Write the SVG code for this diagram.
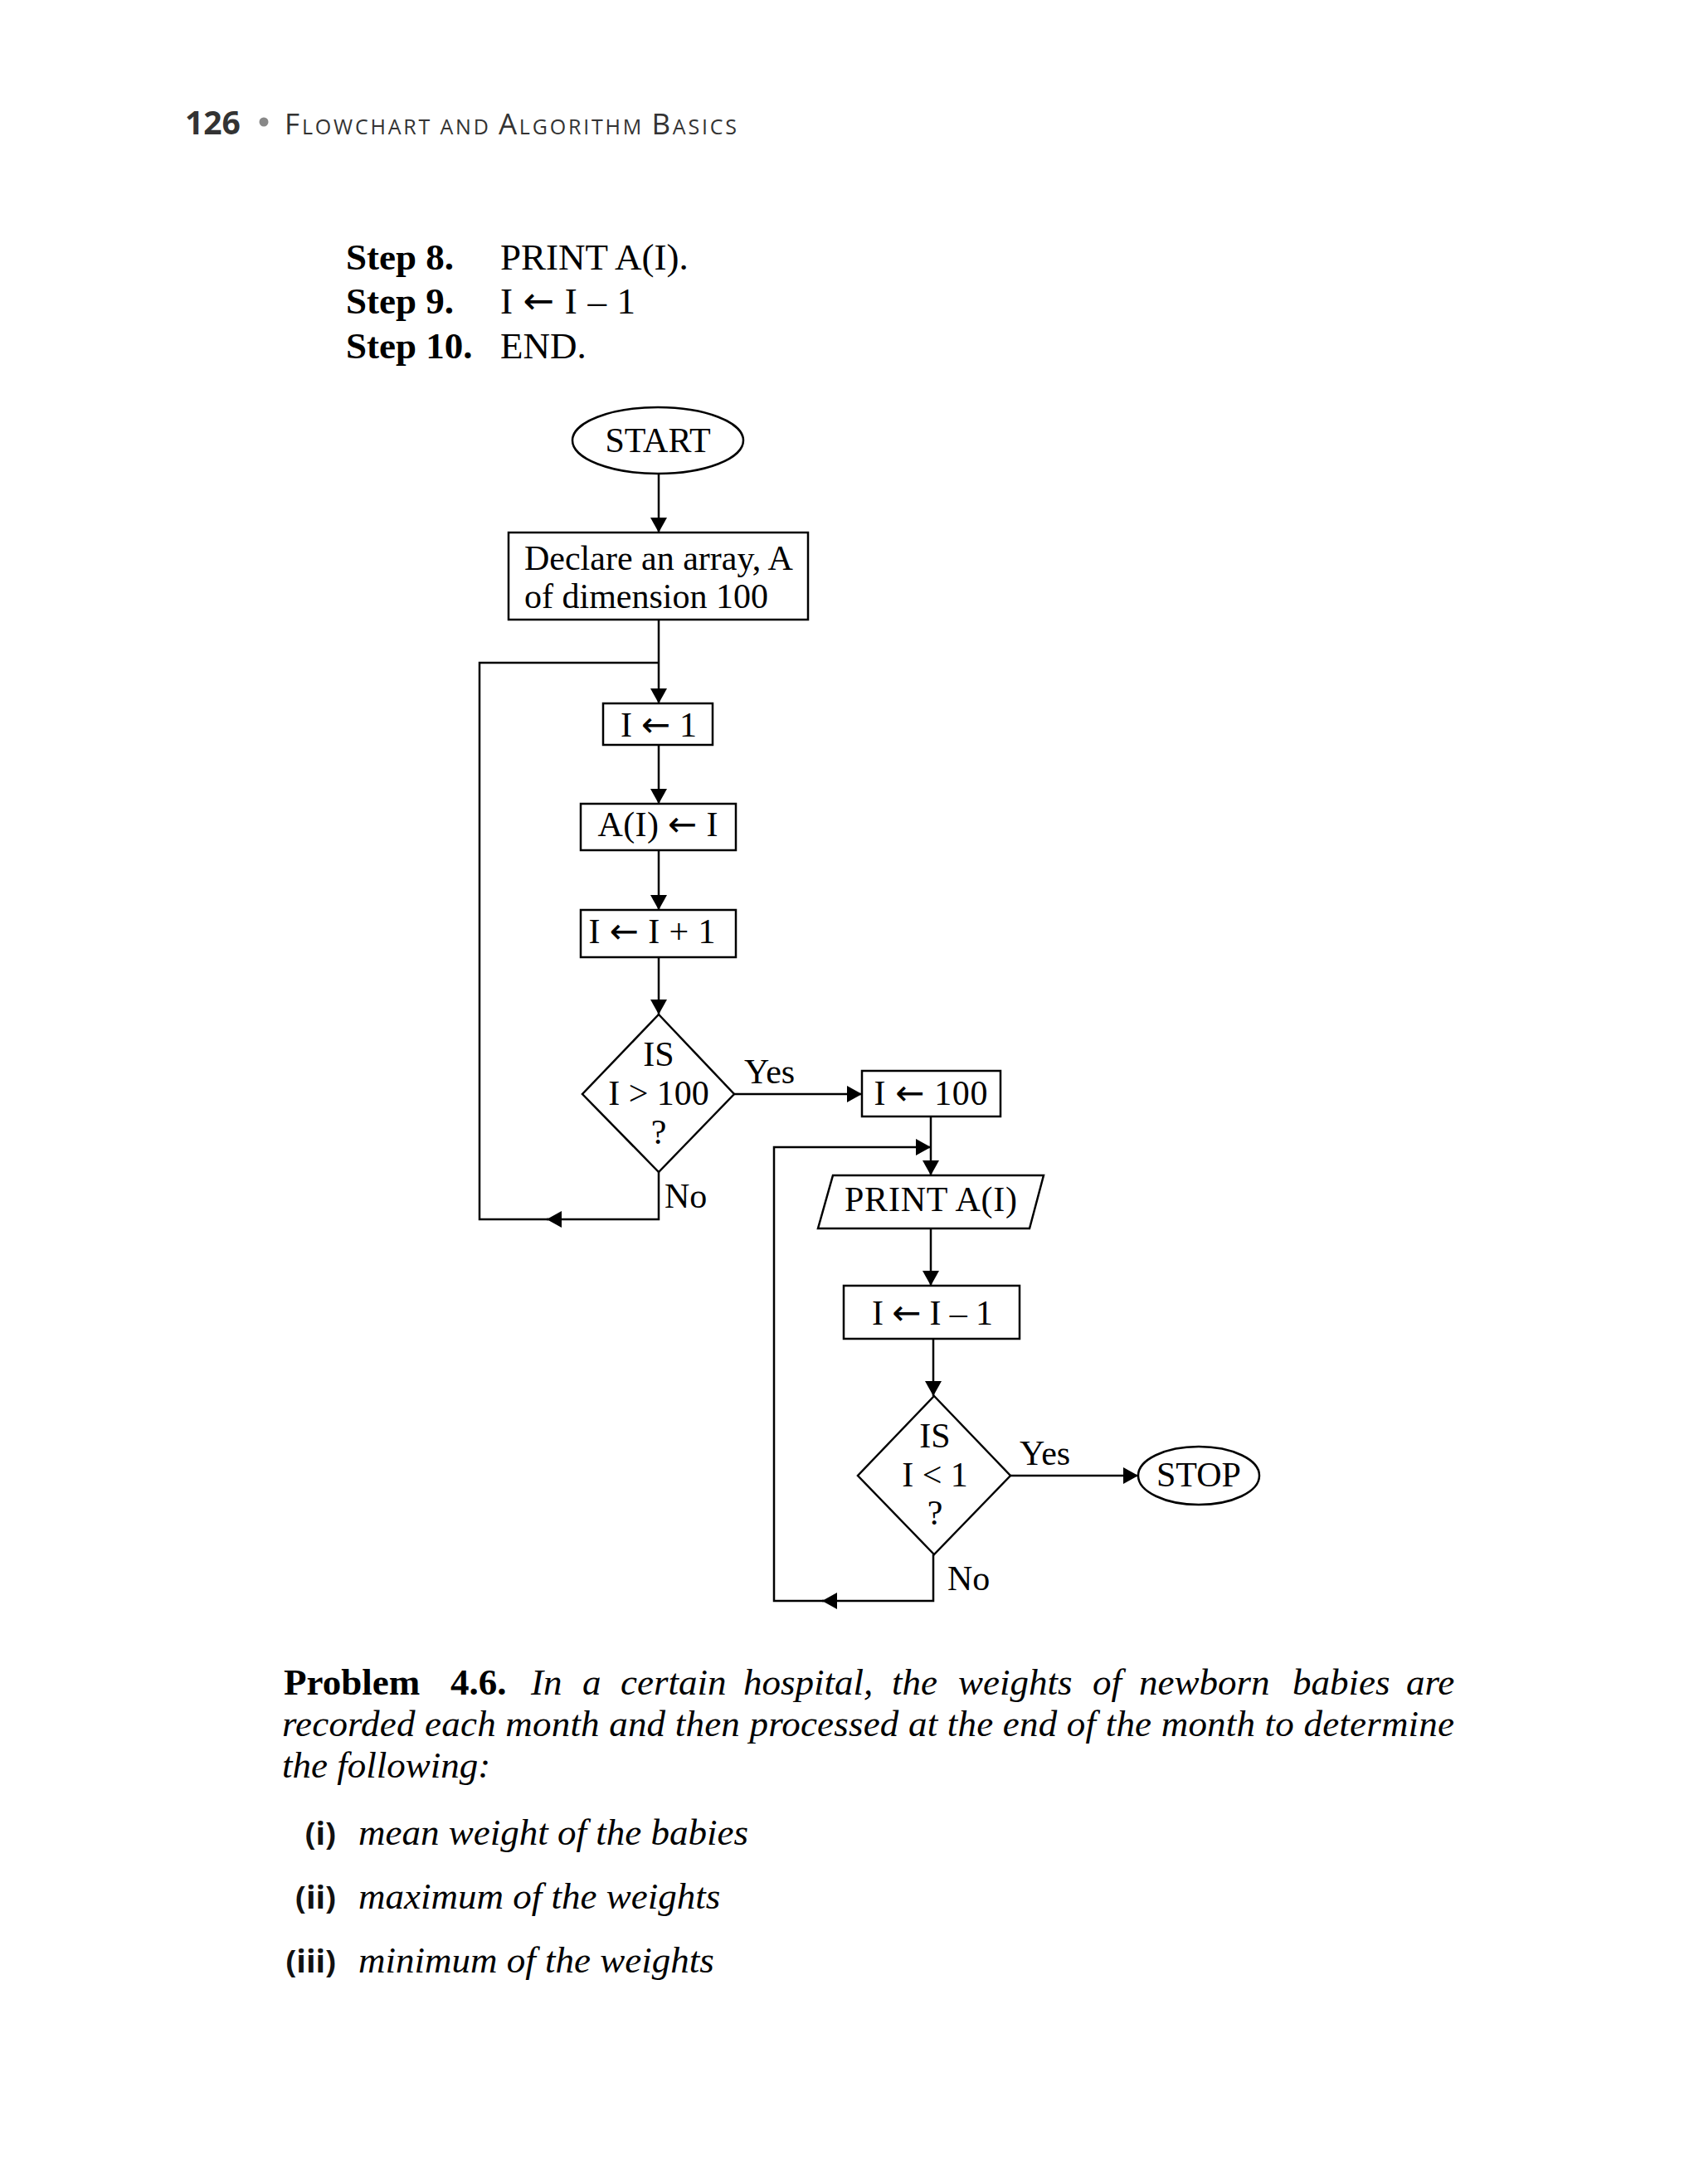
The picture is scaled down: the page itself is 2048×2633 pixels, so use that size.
<svg xmlns="http://www.w3.org/2000/svg" width="2048" height="2633" viewBox="0 0 2048 2633">
<style>
.shape{fill:#fff;stroke:#000;stroke-width:2.5}
.conn{fill:none;stroke:#000;stroke-width:2.5}
.fc{font-family:"Liberation Serif","Times New Roman",serif;font-size:42px;fill:#000}
.mid{text-anchor:middle}
.ar{font-family:"DejaVu Sans",sans-serif;font-weight:normal}
.step{font-family:"Liberation Serif","Times New Roman",serif;font-size:45px;fill:#000}
.b{font-weight:bold}
.it{font-family:"Liberation Serif","Times New Roman",serif;font-size:45px;font-style:italic;fill:#000}
.hd{font-family:"Open Sans","Noto Sans",sans-serif;fill:#333}
.num{font-family:"Open Sans","Noto Sans",sans-serif;font-weight:bold;font-size:38px;fill:#111;text-anchor:end}
</style>
<defs>
<marker id="arr" viewBox="0 0 18 20" refX="18" refY="10" markerWidth="18" markerHeight="20" markerUnits="userSpaceOnUse" orient="auto">
<path d="M0,0 L18,10 L0,20 z" fill="#000"/>
</marker>
</defs>
<rect width="2048" height="2633" fill="#fff"/>

<g id="header">
<text class="hd" x="223" y="162" font-size="39" font-weight="bold" fill="#111">126</text>
<circle cx="318" cy="147" r="5.5" fill="#888"/>
<text class="hd" x="343" y="162" textLength="545" lengthAdjust="spacing"><tspan font-size="35">F</tspan><tspan font-size="25">LOWCHART AND </tspan><tspan font-size="35">A</tspan><tspan font-size="25">LGORITHM </tspan><tspan font-size="35">B</tspan><tspan font-size="25">ASICS</tspan></text>
</g>

<g id="steps">
<text class="step b" x="417" y="325">Step 8.</text>
<text class="step" x="603" y="325">PRINT A(I).</text>
<text class="step b" x="417" y="378">Step 9.</text>
<text class="step" x="603" y="378" textLength="163">I <tspan class="ar">←</tspan> I – 1</text>
<text class="step b" x="417" y="432">Step 10.</text>
<text class="step" x="603" y="432">END.</text>
</g>

<g id="connectors">
<path class="conn" d="M794,571 V642" marker-end="url(#arr)"/>
<path class="conn" d="M794,747 V848" marker-end="url(#arr)"/>
<path class="conn" d="M794,898 V969" marker-end="url(#arr)"/>
<path class="conn" d="M794,1025 V1097" marker-end="url(#arr)"/>
<path class="conn" d="M794,1154 V1223" marker-end="url(#arr)"/>
<path class="conn" d="M885,1319 H1039" marker-end="url(#arr)"/>
<path class="conn" d="M794,1413 V1470 H659" marker-end="url(#arr)"/>
<path class="conn" d="M661,1470 H578 V799 H794"/>
<path class="conn" d="M1122,1346 V1417" marker-end="url(#arr)"/>
<path class="conn" d="M1122,1481 V1550" marker-end="url(#arr)"/>
<path class="conn" d="M1125,1614 V1683" marker-end="url(#arr)"/>
<path class="conn" d="M1218,1779 H1372" marker-end="url(#arr)"/>
<path class="conn" d="M1125,1874 V1930 H991" marker-end="url(#arr)"/>
<path class="conn" d="M993,1930 H933 V1383 H1122" marker-end="url(#arr)"/>
<text class="fc" x="897" y="1306">Yes</text>
<text class="fc" x="801" y="1456">No</text>
<text class="fc" x="1229" y="1766">Yes</text>
<text class="fc" x="1142" y="1917">No</text>
</g>

<g id="start">
<ellipse class="shape" cx="793" cy="531" rx="103" ry="40"/>
<text class="fc mid" x="793" y="545">START</text>
</g>

<g id="declare">
<rect class="shape" x="613" y="642" width="361" height="105"/>
<text class="fc" x="632" y="687">Declare an array, A</text>
<text class="fc" x="632" y="733">of dimension 100</text>
</g>

<g id="init">
<rect class="shape" x="727" y="848" width="132" height="50"/>
<text class="fc mid" x="794" y="888" textLength="92">I <tspan class="ar">←</tspan> 1</text>
</g>

<g id="assign">
<rect class="shape" x="700" y="969" width="187" height="56"/>
<text class="fc mid" x="793" y="1008" textLength="145">A(I) <tspan class="ar">←</tspan> I</text>
</g>

<g id="incr">
<rect class="shape" x="700" y="1097" width="187" height="57"/>
<text class="fc mid" x="786" y="1137" textLength="153">I <tspan class="ar">←</tspan> I + 1</text>
</g>

<g id="dec1">
<polygon class="shape" points="794,1223 885,1319 794,1413 702,1319"/>
<text class="fc mid" x="794" y="1285">IS</text>
<text class="fc mid" x="794" y="1332">I &gt; 100</text>
<text class="fc mid" x="794" y="1379">?</text>
</g>

<g id="set100">
<rect class="shape" x="1039" y="1291" width="167" height="55"/>
<text class="fc mid" x="1122" y="1332" textLength="137">I <tspan class="ar">←</tspan> 100</text>
</g>

<g id="print">
<polygon class="shape" points="1004,1417 1258,1417 1241,1481 986,1481"/>
<text class="fc mid" x="1122" y="1460" textLength="208">PRINT A(I)</text>
</g>

<g id="decr">
<rect class="shape" x="1017" y="1550" width="212" height="64"/>
<text class="fc mid" x="1124" y="1597" textLength="146">I <tspan class="ar">←</tspan> I – 1</text>
</g>

<g id="dec2">
<polygon class="shape" points="1126,1683 1218,1779 1126,1874 1034,1779"/>
<text class="fc mid" x="1127" y="1745">IS</text>
<text class="fc mid" x="1127" y="1792">I &lt; 1</text>
<text class="fc mid" x="1127" y="1838">?</text>
</g>

<g id="stop">
<ellipse class="shape" cx="1445" cy="1779" rx="73" ry="35"/>
<text class="fc mid" x="1445" y="1792">STOP</text>
</g>

<g id="problem">
<text class="it" y="2043"><tspan x="342" font-style="normal" font-weight="bold">Problem</tspan><tspan x="543" font-style="normal" font-weight="bold">4.6.</tspan><tspan x="640">In</tspan><tspan x="702">a</tspan><tspan x="748">certain</tspan><tspan x="896">hospital,</tspan><tspan x="1075">the</tspan><tspan x="1155">weights</tspan><tspan x="1317">of</tspan><tspan x="1373">newborn</tspan><tspan x="1558">babies</tspan><tspan x="1695">are</tspan></text>
<text class="it" x="340" y="2093" textLength="1413" lengthAdjust="spacing">recorded each month and then processed at the end of the month to determine</text>
<text class="it" x="340" y="2143">the following:</text>
<text class="num" x="405" y="2224">(i)</text>
<text class="it" x="432" y="2224">mean weight of the babies</text>
<text class="num" x="405" y="2301">(ii)</text>
<text class="it" x="432" y="2301">maximum of the weights</text>
<text class="num" x="405" y="2378">(iii)</text>
<text class="it" x="432" y="2378">minimum of the weights</text>
</g>
</svg>
